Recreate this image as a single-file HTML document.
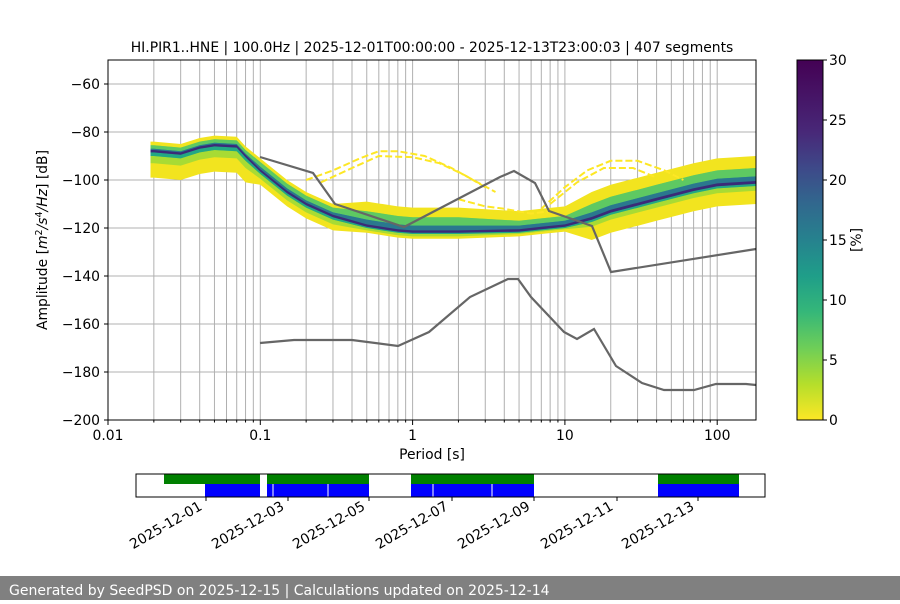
<!DOCTYPE html>
<html><head><meta charset="utf-8"><style>
body{margin:0;background:#fff;width:900px;height:600px;overflow:hidden;font-family:"DejaVu Sans","Liberation Sans",sans-serif}
</style></head><body>
<svg id="s" width="900" height="600" xmlns="http://www.w3.org/2000/svg" font-family="DejaVu Sans, Liberation Sans, sans-serif" font-size="13.9">
<defs>
<linearGradient id="vir" x1="0" y1="1" x2="0" y2="0">
<stop offset="0" stop-color="#fde725"/><stop offset="0.1" stop-color="#b5de2b"/><stop offset="0.2" stop-color="#6ece58"/><stop offset="0.3" stop-color="#35b779"/><stop offset="0.4" stop-color="#1f9e89"/><stop offset="0.5" stop-color="#26828e"/><stop offset="0.6" stop-color="#31688e"/><stop offset="0.7" stop-color="#3e4989"/><stop offset="0.8" stop-color="#482878"/><stop offset="1" stop-color="#440154"/>
</linearGradient>
<clipPath id="cp"><rect x="108" y="60" width="648" height="360"/></clipPath>
</defs>
<g id="grid"></g>
<g id="heat" clip-path="url(#cp)"></g>
<polyline fill="none" stroke="#666" stroke-width="2.2" points="260,157 313,173 335,204 404,227 500,177 514,171 535,183 549,211 592,226 611,272 756,249"/>
<polyline fill="none" stroke="#666" stroke-width="2.2" points="260,343 294,340 352,340 398,346 429,332 470,297 508,279 518,279 531,297 564,332 577,339 594,329 616,366 642,383 664,390 694,390 716,384 746,384 756,385"/>
<rect x="108" y="60" width="648" height="360" fill="none" stroke="#000" stroke-width="1"/>
<g id="ticks"></g>
<text x="432" y="52" text-anchor="middle">HI.PIR1..HNE | 100.0Hz | 2025-12-01T00:00:00 - 2025-12-13T23:00:03 | 407 segments</text>
<text x="432" y="459" text-anchor="middle">Period [s]</text>
<text transform="translate(47,240) rotate(-90)" text-anchor="middle">Amplitude [<tspan font-style="italic">m</tspan><tspan font-size="9.5" dy="-5">2</tspan><tspan dy="5" font-style="italic">/s</tspan><tspan font-size="9.5" dy="-5">4</tspan><tspan dy="5" font-style="italic">/Hz</tspan>] [dB]</text>
<rect x="797" y="60" width="26" height="360" fill="url(#vir)" stroke="#000" stroke-width="1"/>
<g id="cb"></g>
<text transform="translate(861,240) rotate(-90)" text-anchor="middle">[%]</text>
<rect x="164" y="474" width="96" height="10" fill="#008000"/>
<rect x="267" y="474" width="102" height="10" fill="#008000"/>
<rect x="411" y="474" width="123" height="10" fill="#008000"/>
<rect x="658" y="474" width="81" height="10" fill="#008000"/>
<rect x="205" y="484" width="55" height="13" fill="#0000ff"/>
<rect x="267" y="484" width="102" height="13" fill="#0000ff"/>
<rect x="411" y="484" width="123" height="13" fill="#0000ff"/>
<rect x="658" y="484" width="81" height="13" fill="#0000ff"/>
<rect x="272.5" y="484" width="1" height="13" fill="#fff"/>
<rect x="327.5" y="484" width="1" height="13" fill="#fff"/>
<rect x="432.5" y="484" width="1" height="13" fill="#fff"/>
<rect x="491.5" y="484" width="1" height="13" fill="#fff"/>
<rect x="136" y="474" width="629" height="23" fill="none" stroke="#000"/>
<g id="tl"></g>
<rect x="0" y="576" width="900" height="24" fill="#808080"/>
<text x="9" y="595" fill="#fff" font-size="14">Generated by SeedPSD on 2025-12-15 | Calculations updated on 2025-12-14</text>
</svg>
<script>
var NS="http://www.w3.org/2000/svg";
function el(p,t,a,txt){var e=document.createElementNS(NS,t);for(var k in a)e.setAttribute(k,a[k]);if(txt!=null)e.textContent=txt;document.getElementById(p).appendChild(e);return e;}
function X(p){return 108+152.3*Math.log10(p/0.01);}
function Y(d){return 420-(d+200)*2.4;}
for(var dec=0.01;dec<500;dec*=10){for(var m=1;m<10;m++){var x=X(dec*m);if(x>108&&x<756)el("grid","line",{x1:x,x2:x,y1:60,y2:420,stroke:"#b0b0b0","stroke-width":1});}}
for(var d=-180;d<=-60;d+=20)el("grid","line",{x1:108,x2:756,y1:Y(d),y2:Y(d),stroke:"#b0b0b0","stroke-width":1});
for(var d=-200;d<=-60;d+=20){el("ticks","line",{x1:104,x2:108,y1:Y(d),y2:Y(d),stroke:"#000"});el("ticks","text",{x:100,y:Y(d)+5,"text-anchor":"end"},"\u2212"+(-d));}
var xl=[[0.01,"0.01"],[0.1,"0.1"],[1,"1"],[10,"10"],[100,"100"]];
xl.forEach(function(a){var x=X(a[0]);el("ticks","line",{x1:x,x2:x,y1:420,y2:425,stroke:"#000"});el("ticks","text",{x:x,y:440,"text-anchor":"middle"},a[1]);});
for(var dec=0.01;dec<500;dec*=10){for(var m=2;m<10;m++){var x=X(dec*m);if(x<756)el("ticks","line",{x1:x,x2:x,y1:420,y2:422.5,stroke:"#000"});}}
for(var v=0;v<=30;v+=5){var y=420-v*12;el("cb","line",{x1:823,x2:827,y1:y,y2:y,stroke:"#000"});el("cb","text",{x:829,y:y+5},String(v));}
var P=[0.019,0.02,0.03,0.04,0.05,0.07,0.08,0.1,0.15,0.2,0.3,0.5,0.8,1,2,5,7,10,15,20,40,70,100,180];
var M=[-88,-88,-89,-86.5,-85.5,-86,-90,-96,-105,-110,-115,-119,-121,-121.5,-121.5,-121,-120,-119,-116,-113,-108,-104,-102,-101];
function off(p){
 if(p<=0.08)return[4,2.5,1,0.5,0.5,2,5,11];
 if(p<=0.3)return[5,3.5,1.5,0.5,0.5,1.5,3.5,6];
 if(p<=3)return[10,6,2.5,0.5,0.5,1,2,3];
 if(p<=10)return[8,4,2,0.5,0.5,1,1.5,2.5];
 return[11,6,2.5,0.6,0.6,1.5,3.5,9];
}
function band(i0,i1,col){
 var top=[],bot=[];
 for(var i=0;i<P.length;i++){var o=off(P[i]);top.push(X(P[i]).toFixed(1)+","+Y(M[i]+o[i0]).toFixed(1));bot.unshift(X(P[i]).toFixed(1)+","+Y(M[i]-o[i1]).toFixed(1));}
 el("heat","polygon",{points:top.concat(bot).join(" "),fill:col});
}
band(0,7,"#f2e41f");band(1,6,"#a8db34");band(1,5,"#5ec962");band(2,5,"#22a884");band(2,4,"#2a788e");band(3,4,"#3b2a78");
function arc(pts){el("heat","polyline",{points:pts.map(function(a){return X(a[0]).toFixed(1)+","+Y(a[1]).toFixed(1)}).join(" "),fill:"none",stroke:"#fde725","stroke-width":2,"stroke-dasharray":"7 3"});}
arc([[0.2,-100],[0.3,-96],[0.45,-91],[0.6,-88],[0.8,-88],[1.2,-90],[1.8,-95],[2.5,-100],[3.5,-105]]);
arc([[0.25,-101],[0.4,-95],[0.6,-90],[1,-90.5],[1.5,-93],[2.2,-98],[3,-103]]);
arc([[2,-108],[3,-111],[4,-112],[6,-114],[8,-113]]);
arc([[7,-112],[10,-103],[14,-96],[20,-92],[30,-92],[45,-96],[60,-100]]);
arc([[8,-110],[12,-101],[18,-95],[28,-95],[40,-99]]);
var tx=[206,288,369,452,534,617,698],tn=["2025-12-01","2025-12-03","2025-12-05","2025-12-07","2025-12-09","2025-12-11","2025-12-13"];
tx.forEach(function(x,i){el("tl","line",{x1:x,x2:x,y1:497,y2:501,stroke:"#000"});el("tl","text",{transform:"translate("+(x-3)+",509) rotate(-30)","text-anchor":"end"},tn[i]);});
</script>
</body></html>
